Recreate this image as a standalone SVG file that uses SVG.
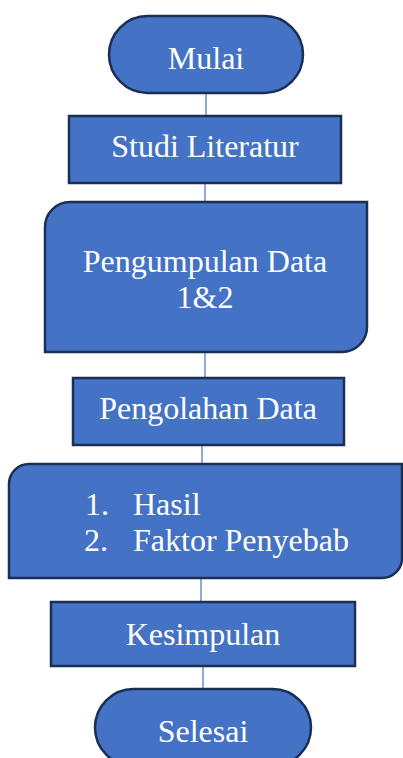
<svg xmlns="http://www.w3.org/2000/svg" width="403" height="758" viewBox="0 0 403 758">
<style>
.s{fill:#4472C4;stroke:#1A2F55;stroke-width:2.5}
.t{font-family:"Liberation Serif","Times New Roman",serif;font-size:32px;fill:#ffffff}
.c{text-anchor:middle}
.ln{stroke:#4472C4;stroke-width:1.2;fill:none}
</style>
<rect width="403" height="758" fill="#ffffff"/>
<g id="connectors">
<line class="ln" x1="206" y1="93" x2="206" y2="116"/>
<line class="ln" x1="205" y1="183" x2="205" y2="202"/>
<line class="ln" x1="205" y1="352" x2="205" y2="378"/>
<line class="ln" x1="202" y1="445" x2="202" y2="464"/>
<line class="ln" x1="201" y1="578" x2="201" y2="602"/>
<line class="ln" x1="203" y1="666" x2="203" y2="689"/>
</g>
<g id="mulai">
<rect class="s" x="109" y="16" width="194" height="77" rx="38.5" ry="38.5"/>
<text class="t c" x="206" y="69">Mulai</text>
</g>
<g id="studi">
<rect class="s" x="69" y="116" width="272" height="67"/>
<text class="t c" x="205" y="157">Studi Literatur</text>
</g>
<g id="pengumpulan">
<path class="s" d="M70,202 H367 V327 A25,25 0 0 1 342,352 H45 V227 A25,25 0 0 1 70,202 Z"/>
<text class="t c" x="205" y="272">Pengumpulan Data</text>
<text class="t c" x="205" y="308">1&amp;2</text>
</g>
<g id="pengolahan">
<rect class="s" x="73" y="378" width="271" height="67"/>
<text class="t c" x="208" y="419">Pengolahan Data</text>
</g>
<g id="hasil">
<path class="s" d="M29,464 H402 V558 A20,20 0 0 1 382,578 H9 V484 A20,20 0 0 1 29,464 Z"/>
<text class="t" x="85" y="515">1.</text>
<text class="t" x="133" y="515">Hasil</text>
<text class="t" x="84" y="551">2.</text>
<text class="t" x="133" y="551">Faktor Penyebab</text>
</g>
<g id="kesimpulan">
<rect class="s" x="51" y="602" width="304" height="64"/>
<text class="t c" x="203" y="645">Kesimpulan</text>
</g>
<g id="selesai">
<rect class="s" x="95" y="689" width="216" height="77" rx="38.5" ry="38.5"/>
<text class="t c" x="203" y="742">Selesai</text>
</g>
</svg>
